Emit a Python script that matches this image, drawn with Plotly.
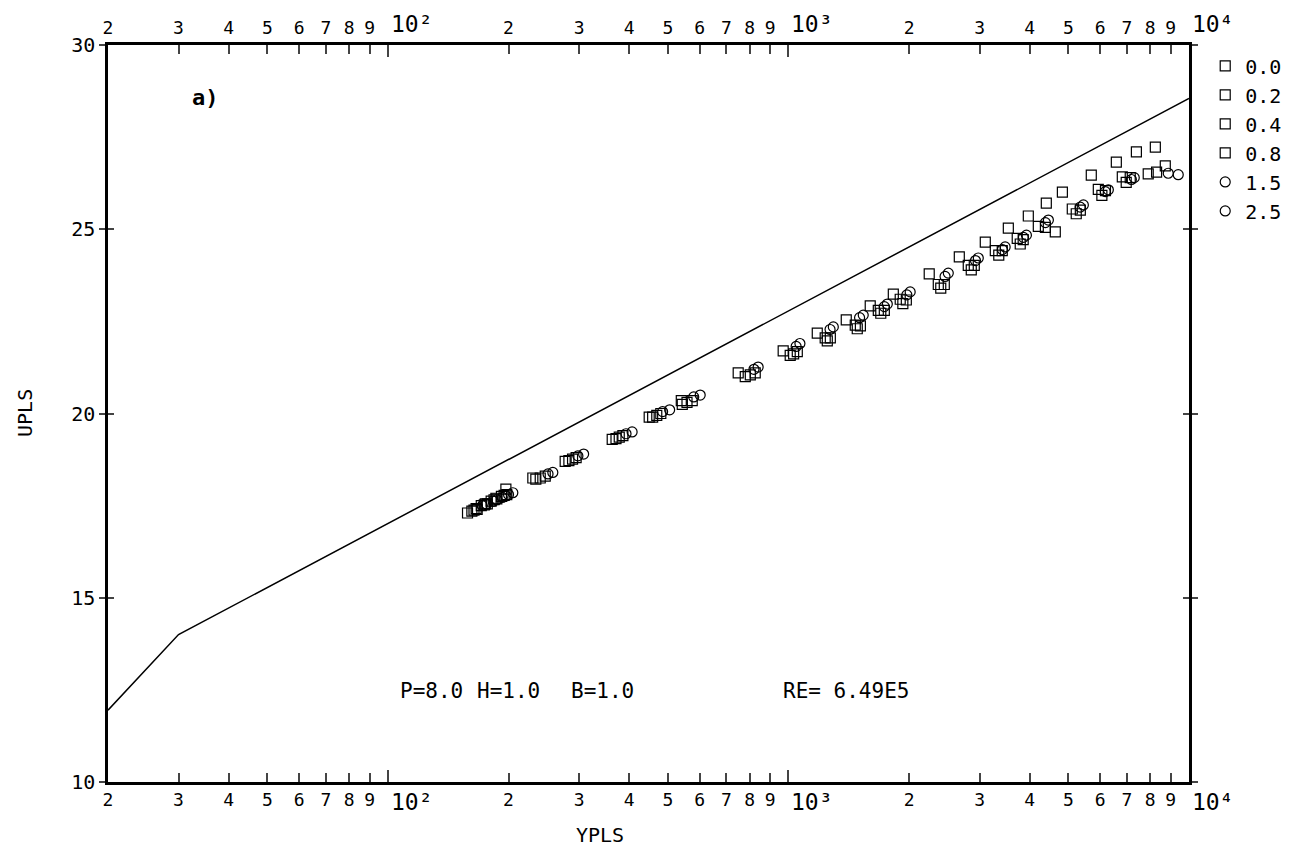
import numpy as np
import plotly.graph_objects as go

# ---- data ----
law_yplus = [20, 30, 10000]
law_uplus = [11.95, 14.0, 28.55]

yp_00 = [158, 166, 175, 186, 197, 230, 277, 363, 449, 540, 749, 970, 1180, 1394, 1600, 1827, 2246, 2670, 3100, 3539, 3970, 4403, 4829, 5702, 6585, 7390, 8240]
up_00 = [17.30, 17.42, 17.55, 17.70, 17.95, 18.25, 18.70, 19.30, 19.90, 20.35, 21.10, 21.70, 22.18, 22.54, 22.92, 23.24, 23.79, 24.25, 24.65, 25.03, 25.36, 25.71, 26.01, 26.47, 26.82, 27.10, 27.23]

yp_02 = [162, 171, 181, 192, 234, 283, 371, 458, 543, 780, 1010, 1235, 1468, 1676, 1901, 2366, 2811, 3284, 3725, 4205, 5112, 5937, 6815, 8725]
up_02 = [17.35, 17.50, 17.62, 17.75, 18.22, 18.72, 19.32, 19.90, 20.25, 21.00, 21.58, 22.05, 22.40, 22.80, 23.10, 23.50, 24.02, 24.42, 24.75, 25.08, 25.55, 26.08, 26.42, 26.72]

yp_04 = [164, 174, 184, 195, 240, 289, 378, 469, 558, 803, 1030, 1250, 1485, 1700, 1930, 2400, 2860, 3350, 3790, 4636, 5230, 6060, 6970, 7910]
up_04 = [17.38, 17.52, 17.66, 17.78, 18.25, 18.76, 19.36, 19.95, 20.30, 21.05, 21.62, 21.97, 22.30, 22.72, 22.98, 23.40, 23.90, 24.30, 24.60, 24.93, 25.42, 25.92, 26.27, 26.50]

yp_08 = [167, 177, 187, 198, 247, 295, 386, 480, 575, 826, 1052, 1272, 1512, 1735, 1969, 2449, 2910, 3418, 3855, 4380, 5354, 6186, 7133, 8300]
up_08 = [17.40, 17.55, 17.68, 17.80, 18.30, 18.80, 19.40, 20.00, 20.35, 21.10, 21.68, 22.05, 22.38, 22.80, 23.08, 23.50, 24.02, 24.42, 24.72, 25.05, 25.52, 26.05, 26.40, 26.55]

yp_15 = [172, 183, 193, 200, 251, 298, 393, 485, 580, 820, 1045, 1270, 1505, 1735, 1975, 2460, 2930, 3420, 3860, 4380, 5350, 6180, 7180, 8875]
up_15 = [17.50, 17.62, 17.72, 17.80, 18.36, 18.85, 19.45, 20.05, 20.45, 21.20, 21.82, 22.28, 22.60, 22.90, 23.22, 23.72, 24.15, 24.45, 24.78, 25.18, 25.60, 26.02, 26.35, 26.52]

yp_25 = [176, 187, 197, 205, 258, 308, 407, 505, 602, 840, 1068, 1294, 1537, 1765, 2013, 2506, 2978, 3475, 3927, 4456, 5448, 6290, 7300, 9400]
up_25 = [17.55, 17.66, 17.76, 17.85, 18.40, 18.90, 19.50, 20.10, 20.50, 21.26, 21.90, 22.35, 22.67, 22.97, 23.30, 23.81, 24.22, 24.52, 24.84, 25.25, 25.66, 26.07, 26.40, 26.48]

series_names = ["0.0", "0.2", "0.4", "0.8", "1.5", "2.5"]
series_x = [yp_00, yp_02, yp_04, yp_08, yp_15, yp_25]
series_y = [up_00, up_02, up_04, up_08, up_15, up_25]
series_symbols = ["square-open", "square-open", "square-open", "square-open", "circle-open", "circle-open"]

minor_vals = [m * 10 ** d for d in (1, 2, 3) for m in range(2, 10)]
minor_text = [str(m) for d in (1, 2, 3) for m in range(2, 10)]
decades = [100, 1000, 10000]
decade_text = ["10²", "10³", "10⁴"]
y_ticks = [10, 15, 20, 25, 30]

info_texts = ["P=8.0", "H=1.0", "B=1.0", "RE= 6.49E5"]
info_px = [398, 475, 569, 781]

FONT = "DejaVu Sans Mono"

fig = go.Figure()
fig.add_trace(go.Scatter(x=law_yplus, y=law_uplus, mode="lines",
                         line=dict(color="black", width=1.5), showlegend=False))
for name, xs, ys, sym in zip(series_names, series_x, series_y, series_symbols):
    fig.add_trace(go.Scatter(x=xs, y=ys, mode="markers", name=name,
                             marker=dict(symbol=sym, size=10, color="black",
                                         line=dict(color="black", width=1.2))))
# helper (empty) traces so the overlay axes are drawn
fig.add_trace(go.Scatter(x=[], y=[], xaxis="x2", yaxis="y", showlegend=False))
fig.add_trace(go.Scatter(x=[], y=[], xaxis="x3", yaxis="y", showlegend=False))
fig.add_trace(go.Scatter(x=[], y=[], xaxis="x", yaxis="y2", showlegend=False))

xr = [np.log10(20), np.log10(10000)]
fig.update_layout(
    width=1316, height=853,
    margin=dict(l=108, r=127, t=45, b=71),
    plot_bgcolor="white", paper_bgcolor="white",
    font=dict(family=FONT, size=18, color="black"),
    xaxis=dict(type="log", range=xr, tickmode="array", tickvals=minor_vals,
               ticktext=minor_text, ticks="inside", ticklen=9, tickwidth=1.5,
               showline=True, linewidth=2.5, linecolor="black", mirror="ticks",
               showgrid=False, zeroline=False, tickfont=dict(family=FONT, size=18)),
    # decade ticks (both sides, no labels)
    xaxis2=dict(type="log", range=xr, overlaying="x", side="bottom", tickmode="array",
                tickvals=decades, ticks="inside", ticklen=12, tickwidth=1.5,
                showticklabels=False, showline=False, mirror="ticks",
                showgrid=False, zeroline=False),
    # top labels
    xaxis3=dict(type="log", range=xr, overlaying="x", side="top", tickmode="array",
                tickvals=minor_vals, ticktext=minor_text, ticks="", showline=False,
                ticklabelstandoff=6,
                showgrid=False, zeroline=False, tickfont=dict(family=FONT, size=18)),
    yaxis=dict(range=[10, 30], tickmode="array", tickvals=y_ticks,
               ticktext=[str(v) for v in y_ticks], ticks="outside", ticklen=6, tickwidth=1.5,
               showline=True, linewidth=2.5, linecolor="black", mirror="ticks",
               showgrid=False, zeroline=False, tickfont=dict(family=FONT, size=20)),
    yaxis2=dict(range=[10, 30], overlaying="y", tickmode="array", tickvals=y_ticks,
                showticklabels=False, ticks="inside", ticklen=6, tickwidth=1.5,
                showline=False, mirror="ticks", showgrid=False, zeroline=False),
    legend=dict(x=1.015, y=0.998, xanchor="left", yanchor="top",
                font=dict(family=FONT, size=20), bgcolor="rgba(0,0,0,0)",
                itemwidth=30, tracegroupgap=0),
)

# decade labels (bottom and top)
for v, t in zip(decades, decade_text):
    fig.add_annotation(x=np.log10(v), y=0, xref="x", yref="paper", yanchor="top",
                       xanchor="left", text=t, showarrow=False,
                       xshift=1, yshift=-5, font=dict(family=FONT, size=23))
    fig.add_annotation(x=np.log10(v), y=1, xref="x", yref="paper", yanchor="bottom",
                       xanchor="left", text=t, showarrow=False,
                       xshift=1, yshift=6, font=dict(family=FONT, size=23))

fig.add_annotation(x=0.0759, y=0.929, xref="paper", yref="paper", text="<b>a)</b>",
                   showarrow=False, xanchor="left", yanchor="middle",
                   font=dict(family=FONT, size=22))
for t, px in zip(info_texts, info_px):
    fig.add_annotation(x=(px - 108) / 1081, y=0.1235, xref="paper", yref="paper",
                       text=t, showarrow=False, xanchor="left", yanchor="middle",
                       font=dict(family=FONT, size=21))
fig.add_annotation(x=0.455, y=-0.072, xref="paper", yref="paper", text="YPLS",
                   showarrow=False, xanchor="center", yanchor="middle",
                   font=dict(family=FONT, size=20))
fig.add_annotation(x=-0.0768, y=0.5007, xref="paper", yref="paper", text="UPLS",
                   showarrow=False, textangle=-90, xanchor="center", yanchor="middle",
                   font=dict(family=FONT, size=20))

fig.write_html("out.html")
